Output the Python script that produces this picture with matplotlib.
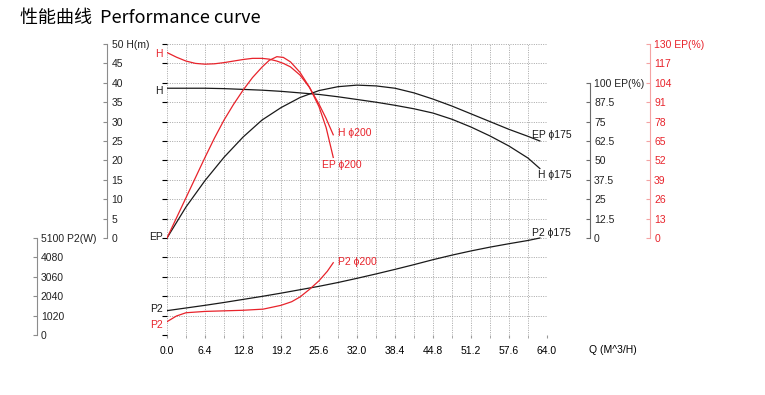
import numpy as np
import matplotlib
matplotlib.use("Agg")
import matplotlib.pyplot as plt

plt.rcParams['font.family'] = ['Liberation Sans', 'DejaVu Sans']

RED = '#e8232b'

# impeller 175 (black)
q175 = [0, 3.2, 6.4, 9.6, 12.8, 16, 19.2, 22.4, 25.6, 28.8, 32, 35.2, 38.4,
        41.6, 44.8, 48, 51.2, 54.4, 57.6, 60.8, 62.8]
h175 = [38.6, 38.6, 38.6, 38.5, 38.3, 38.1, 37.8, 37.4, 37.0, 36.4, 35.7, 35.0, 34.2,
        33.3, 32.2, 30.6, 28.6, 26.3, 23.7, 20.6, 17.9]
ep175 = [0, 20, 37, 52, 65, 76, 84, 90.5, 95, 97.5, 98.5, 98, 96.5,
         93.5, 89.5, 85, 80, 75, 70, 65.5, 62.5]
p2_175 = [1280, 1420, 1560, 1710, 1870, 2030, 2200, 2380, 2560, 2760, 2980, 3210, 3450,
          3700, 3960, 4200, 4420, 4620, 4800, 4970, 5100]

# impeller 200 (red)
q200 = [0, 1.6, 3.2, 4.8, 6.4, 8, 9.6, 11.2, 12.8, 14.4, 16, 17.2, 18.5,
        19.6, 20.8, 22.4, 24, 25.6, 26.8, 28]
h200 = [47.8, 46.6, 45.6, 45.0, 44.8, 44.9, 45.2, 45.6, 46.0, 46.3, 46.3, 46.1, 45.6,
        45.0, 44.1, 42.0, 38.8, 34.5, 30.8, 26.6]
ep200 = [0, 13.5, 27, 40.5, 54, 67, 79, 89.5, 99, 107.5, 114.5, 119, 121.5,
         121, 118, 111, 101, 88, 74, 54]
q200_p2 = [0, 1.6, 3.2, 6.4, 9.6, 12.8, 16.2, 19.2, 21, 22.4, 24, 25.6, 27, 28]
p2_200 = [700, 1000, 1170, 1240, 1270, 1300, 1360, 1560, 1750, 2000, 2400, 2850, 3350, 3800]

q_ticks = np.linspace(0, 64, 11)
h_ticks = np.arange(0, 51, 5)
ep_ticks = np.arange(0, 101, 12.5)
ep_red_ticks = np.arange(0, 131, 13)
p2_ticks = np.arange(0, 5101, 1020)

fig = plt.figure(figsize=(7.65, 3.95), dpi=100)
L, R, T, B = 167 / 765, 547 / 765, 1 - 44 / 395, 1 - 335 / 395
ax = fig.add_axes([L, B, R - L, T - B])
ax.set_xlim(0, 64)
ax.set_ylim(-25, 50)
ax.set_xticks(q_ticks)
ax.set_xticklabels([f'{v:.1f}' for v in q_ticks], fontsize=7.5)
ax.set_xticks(np.linspace(0, 64, 21), minor=True)
ax.set_yticks(np.arange(-25, 51, 5))
ax.tick_params(axis='y', left=False, labelleft=False)
ax.tick_params(axis='x', which='both', length=2, color='#999999', pad=6)
for s in ax.spines.values():
    s.set_visible(False)
ax.grid(True, which='both', color='#9a9a9a', linestyle=(0, (1.2, 1.6)), linewidth=0.6)


def scale_axis(pos, ylim, bounds, ticks, labels, color, spine_color):
    a = ax.twinx()
    a.set_ylim(*ylim)
    for s in ['top', 'left', 'bottom']:
        a.spines[s].set_visible(False)
    a.spines['right'].set_position(('axes', pos))
    a.spines['right'].set_bounds(*bounds)
    a.spines['right'].set_color(spine_color)
    a.spines['right'].set_linewidth(0.8)
    a.set_yticks(ticks)
    a.set_yticklabels(labels, fontsize=7.5, color=color)
    a.tick_params(axis='y', direction='in', length=3, pad=3, color=spine_color)
    return a


h_labels = [f'{v:g}' for v in h_ticks]
h_labels[-1] = '50 H(m)'
scale_axis(-0.157, (-25, 50), (0, 50), h_ticks, h_labels, '#222222', '#8c8c8c')

p2_labels = [f'{v:g}' for v in p2_ticks]
p2_labels[-1] = '5100 P2(W)'
ax_p2 = scale_axis(-0.343, (0, 15300), (0, 5100), p2_ticks, p2_labels, '#222222', '#8c8c8c')

ep_labels = [f'{v:g}' for v in ep_ticks]
ep_labels[-1] = '100 EP(%)'
ax_ep = scale_axis(1.113, (-62.5, 125), (0, 100), ep_ticks, ep_labels, '#222222', '#6a6a6a')

epr_labels = [f'{v:g}' for v in ep_red_ticks]
epr_labels[-1] = '130 EP(%)'
ax_epr = scale_axis(1.271, (-65, 130), (0, 130), ep_red_ticks, epr_labels, RED, '#f4a3a3')

# curves
ax.plot(q175, h175, color='#1a1a1a', lw=0.9)
ax_ep.plot(q175, ep175, color='#1a1a1a', lw=0.9)
ax_p2.plot(q175, p2_175, color='#1a1a1a', lw=0.9)
ax.plot(q200, h200, color=RED, lw=0.9)
ax_epr.plot(q200, ep200, color=RED, lw=0.9)
ax_p2.plot(q200_p2, p2_200, color=RED, lw=0.9)

# curve names
fs = 7.5
kw = dict(fontsize=fs, va='center', clip_on=False)
ax.text(-0.7, 47.4, 'H', color=RED, ha='right', **kw)
ax.text(-0.7, 37.9, 'H', color='#1a1a1a', ha='right', **kw)
ax.text(-0.7, 0.3, 'EP', color='#1a1a1a', ha='right', **kw)
ax.text(-0.7, -18.2, 'P2', color='#1a1a1a', ha='right', **kw)
ax.text(-0.7, -22.3, 'P2', color=RED, ha='right', **kw)
ax.text(61.5, 26.6, 'EP ϕ175', color='#1a1a1a', ha='left', **kw)
ax.text(62.5, 16.3, 'H ϕ175', color='#1a1a1a', ha='left', **kw)
ax.text(61.5, 1.4, 'P2 ϕ175', color='#1a1a1a', ha='left', **kw)
ax.text(28.8, 27.1, 'H ϕ200', color=RED, ha='left', **kw)
ax.text(26.1, 18.9, 'EP ϕ200', color=RED, ha='left', **kw)
ax.text(28.8, -6.3, 'P2 ϕ200', color=RED, ha='left', **kw)

fig.text(613 / 765, 1 - 350 / 395, 'Q (M^3/H)', fontsize=7.5, ha='center', va='center')
fig.text(20 / 765, 1 - 18 / 395, '性能曲线  Performance curve', fontsize=13,
         family=['Noto Sans CJK SC', 'DejaVu Sans'], ha='left', va='center')

fig.savefig('out.png', dpi=100)
